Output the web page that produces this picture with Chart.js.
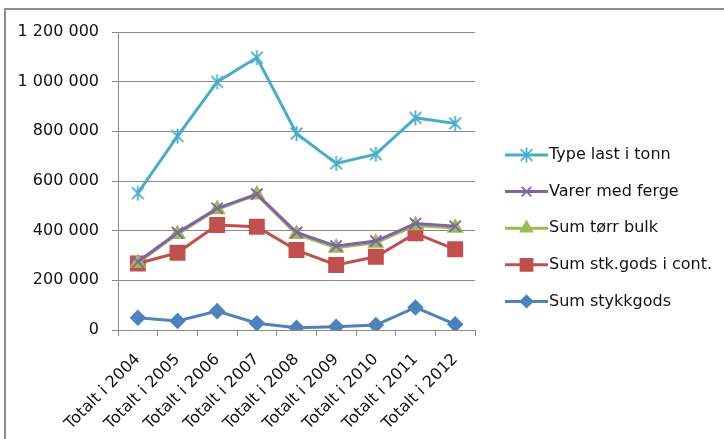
<!DOCTYPE html>
<html lang="no">
<head>
  <meta charset="UTF-8">
  <title>Type last i tonn 2004-2012</title>
  <script src="https://cdn.jsdelivr.net/npm/chart.js"></script>
  <style>
    html, body { margin: 0; padding: 0; background: #fff; }
  </style>
</head>
<body>
  <canvas id="myChart" width="724" height="439"></canvas>

  <script>
    // Categories (x axis tick labels)
    const years = ['Totalt i 2004', 'Totalt i 2005', 'Totalt i 2006', 'Totalt i 2007', 'Totalt i 2008',
                   'Totalt i 2009', 'Totalt i 2010', 'Totalt i 2011', 'Totalt i 2012'];

    // Series values (tonn)
    const typeLastTonn   = [551000, 781000, 999000, 1097000, 791000, 671000, 708000, 854000, 832000];
    const varerMedFerge  = [275000, 392000, 490000, 547000, 393000, 338000, 358000, 429000, 418000];
    const sumTorrBulk    = [270000, 386000, 486000, 545000, 386000, 331000, 351000, 421000, 411000];
    const sumStkGodsCont = [268000, 311000, 423000, 416000, 322000, 262000, 295000, 389000, 325000];
    const sumStykkgods   = [49000, 36000, 76000, 27000, 9000, 13000, 20000, 91000, 23000];

    // y axis range
    const yMax = 1200000;
    const yStep = 200000;

    const FONT = { family: '"DejaVu Sans", sans-serif', size: 16 };
    const GRID = '#8a8a8a';

    // "1 200 000" style number format
    function fmt(v) {
      return String(v).replace(/\B(?=(\d{3})+(?!\d))/g, ' ');
    }

    // Excel-like asterisk marker (vertical line + X)
    function makeStar(color, size) {
      const c = document.createElement('canvas');
      c.width = size; c.height = size;
      const g = c.getContext('2d');
      const m = size / 2, r = size / 2 - 1;
      g.strokeStyle = color;
      g.lineWidth = 1.8;
      g.beginPath();
      g.moveTo(m, m - r); g.lineTo(m, m + r);
      g.moveTo(m - r * 0.78, m - r * 0.78); g.lineTo(m + r * 0.78, m + r * 0.78);
      g.moveTo(m + r * 0.78, m - r * 0.78); g.lineTo(m - r * 0.78, m + r * 0.78);
      g.stroke();
      return c;
    }

    const starMarker = makeStar('#4BACC6', 17);

    // Legend drawn to the right of the plot: line with marker in the middle
    const sideLegend = {
      id: 'sideLegend',
      afterDraw(chart) {
        const ctx = chart.ctx;
        const area = chart.chartArea;
        const x0 = area.right + 30, x1 = area.right + 73;
        ctx.save();
        chart.data.datasets.forEach((ds, i) => {
          const y = 155 + i * 36.6;
          ctx.strokeStyle = ds.borderColor;
          ctx.lineWidth = 3;
          ctx.beginPath();
          ctx.moveTo(x0, y); ctx.lineTo(x1, y);
          ctx.stroke();
          const mx = (x0 + x1) / 2;
          if (ds.pointStyle instanceof HTMLCanvasElement) {
            ctx.drawImage(ds.pointStyle, mx - ds.pointStyle.width / 2, y - ds.pointStyle.height / 2);
          } else if (Chart.helpers && Chart.helpers.drawPoint) {
            ctx.fillStyle = ds.pointBackgroundColor;
            ctx.strokeStyle = ds.pointBorderColor;
            ctx.lineWidth = ds.pointBorderWidth;
            Chart.helpers.drawPoint(ctx, {
              pointStyle: ds.pointStyle, radius: ds.pointRadius * 0.85,
              borderWidth: ds.pointBorderWidth, rotation: 0
            }, mx, y);
          }
          ctx.fillStyle = '#111';
          ctx.font = FONT.size + 'px ' + FONT.family;
          ctx.textAlign = 'left';
          ctx.textBaseline = 'middle';
          ctx.fillText(ds.label, x1 + 1, y);
        });
        ctx.restore();
      }
    };

    // Grey frame round the chart (right and bottom edges fall outside the picture)
    const frame = {
      id: 'frame',
      beforeDraw(chart) {
        const ctx = chart.ctx;
        ctx.save();
        ctx.strokeStyle = '#8c8c8c';
        ctx.lineWidth = 2;
        ctx.strokeRect(5, 9, 800, 500);
        ctx.restore();
      }
    };

    function series(label, data, color, style, radius, bg) {
      return {
        label: label,
        data: data,
        borderColor: color,
        backgroundColor: color,
        borderWidth: 3,
        pointStyle: style,
        pointRadius: radius,
        pointHoverRadius: radius,
        pointBackgroundColor: bg,
        pointBorderColor: color,
        pointBorderWidth: 1.8,
        tension: 0,
        fill: false
      };
    }

    const ctx = document.getElementById('myChart').getContext('2d');
    new Chart(ctx, {
      type: 'line',
      data: {
        labels: years,
        datasets: [
          series('Type last i tonn', typeLastTonn, '#4BACC6', starMarker, 8, '#4BACC6'),
          series('Varer med ferge', varerMedFerge, '#8064A2', 'crossRot', 8, '#8064A2'),
          series('Sum tørr bulk', sumTorrBulk, '#9BBB59', 'triangle', 8, '#9BBB59'),
          series('Sum stk.gods i cont.', sumStkGodsCont, '#C0504D', 'rect', 10, '#C0504D'),
          series('Sum stykkgods', sumStykkgods, '#4F81BD', 'rectRot', 7, '#4F81BD')
        ]
      },
      options: {
        responsive: false,
        animation: false,
        devicePixelRatio: 1,
        layout: { padding: { top: 32, right: 249, left: 0, bottom: 0 } },
        plugins: {
          legend: { display: false },
          tooltip: { enabled: false }
        },
        scales: {
          x: {
            type: 'category',
            offset: true,
            afterFit(scale) { scale.height = 109; },
            grid: {
              display: true,
              offset: true,
              drawOnChartArea: false,
              tickLength: 6,
              color: GRID
            },
            border: { display: true, color: GRID },
            ticks: {
              color: '#111',
              font: FONT,
              minRotation: 45,
              maxRotation: 45,
              autoSkip: false,
              padding: 14
            }
          },
          y: {
            min: 0,
            max: yMax,
            afterFit(scale) { scale.width = 118; },
            grid: { color: GRID, tickLength: 6 },
            border: { display: true, color: GRID },
            ticks: {
              stepSize: yStep,
              color: '#111',
              font: FONT,
              padding: 13,
              callback: (v) => fmt(v)
            }
          }
        }
      },
      plugins: [frame, sideLegend]
    });
  </script>
</body>
</html>
